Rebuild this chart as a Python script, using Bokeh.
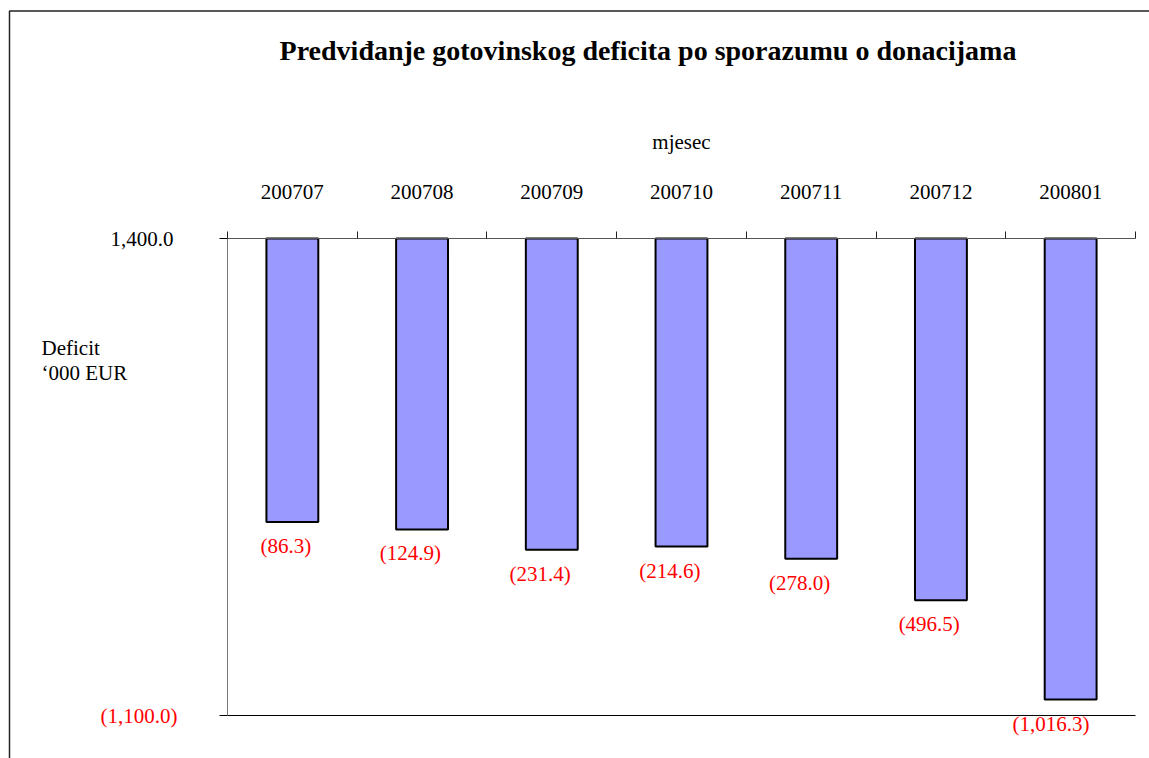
from bokeh.plotting import figure
from bokeh.models import (Range1d, LinearAxis, FixedTicker, ColumnDataSource,
                          LabelSet, Label, BoxAnnotation)
from bokeh.core.properties import value
from bokeh.embed import file_html
from bokeh.resources import INLINE

# ---------------- data ----------------
title_text = "Predviđanje gotovinskog deficita po sporazumu o donacijama"
categories = ["200707", "200708", "200709", "200710", "200711", "200712", "200801"]
deficits = [-86.3, -124.9, -231.4, -214.6, -278.0, -496.5, -1016.3]
y_ticks = [1400.0, -1100.0]
y_tick_labels = ["1,400.0", "(1,100.0)"]
x_axis_title = "mjesec"
y_axis_title = ["Deficit", "\u2018000 EUR"]

# ---------------- layout constants (pixels) ----------------
W, H = 1149, 758
FRAME_L, FRAME_R, FRAME_T, FRAME_B = 227, 1135, 238, 715
FONT = "Liberation Serif"
FS = "21px"
BAR_W = 0.4

n = len(categories)
y_top, y_bot = max(y_ticks), min(y_ticks)
kx = (FRAME_R - FRAME_L) / n
ky = (FRAME_B - FRAME_T) / (y_top - y_bot)


def X(px):
    return (px - FRAME_L) / kx


def Y(py):
    return y_top - (py - FRAME_T) / ky


xs = [i + 0.5 for i in range(n)]
x_right = [x + BAR_W / 2 for x in xs]
labels = ["({:,.1f})".format(abs(v)) if v < 0 else "{:,.1f}".format(v) for v in deficits]

src = ColumnDataSource(dict(x=xs, xr=x_right, v=deficits, lbl=labels, cat=categories))

p = figure(width=W, height=H,
           x_range=Range1d(X(0), X(W)), y_range=Range1d(Y(H), Y(0)),
           x_axis_location=None, y_axis_location=None,
           output_backend="svg", toolbar_location=None,
           min_border=0, min_border_left=0, min_border_right=0,
           min_border_top=0, min_border_bottom=0)
p.xgrid.visible = False
p.ygrid.visible = False
p.outline_line_color = None
p.background_fill_color = "white"
p.border_fill_color = "white"

# top category axis (ticks at category boundaries), crossing at y = 1400
top_axis = LinearAxis(
    fixed_location=y_top, bounds=(0, n),
    ticker=FixedTicker(ticks=xs, minor_ticks=list(range(n + 1))),
    major_label_overrides={x: c for x, c in zip(xs, categories)},
    axis_label=x_axis_title,
    axis_line_color="#555555", axis_line_width=1,
    major_tick_out=0, major_tick_in=0,
    minor_tick_out=7, minor_tick_in=0, minor_tick_line_color="#222222",
    major_label_standoff=33,
    major_label_text_font=FONT, major_label_text_font_size=FS,
    major_label_text_color="black",
    axis_label_text_font=FONT, axis_label_text_font_size=FS,
    axis_label_text_font_style="normal", axis_label_text_color="black",
    axis_label_standoff=28,
)
p.add_layout(top_axis, "above")

# left value axis (black label)
left_axis = LinearAxis(
    fixed_location=0, bounds=(y_bot, y_top),
    ticker=FixedTicker(ticks=y_ticks),
    major_label_overrides={y_ticks[0]: y_tick_labels[0], y_ticks[1]: ""},
    axis_line_color="#777777", axis_line_width=1,
    major_tick_out=8, major_tick_in=0, major_tick_line_color="black",
    minor_tick_out=0, minor_tick_in=0,
    major_label_standoff=46,
    major_label_text_font=FONT, major_label_text_font_size=FS,
    major_label_text_color="black",
)
p.add_layout(left_axis, "left")

# left value axis (red negative label)
left_axis_neg = LinearAxis(
    fixed_location=0, bounds=(y_bot, y_top),
    ticker=FixedTicker(ticks=[y_ticks[1]]),
    major_label_overrides={y_ticks[1]: y_tick_labels[1]},
    axis_line_color=None,
    major_tick_out=0, major_tick_in=0, major_tick_line_color=None,
    minor_tick_out=0, minor_tick_in=0,
    major_label_standoff=50,
    major_label_text_font=FONT, major_label_text_font_size=FS,
    major_label_text_color="#FF0000",
)
p.add_layout(left_axis_neg, "left")

# bottom line
bottom_axis = LinearAxis(
    fixed_location=y_bot, bounds=(0, n),
    ticker=FixedTicker(ticks=[]),
    axis_line_color="black", axis_line_width=1,
    major_tick_out=0, major_tick_in=0, minor_tick_out=0, minor_tick_in=0,
    major_label_text_font_size="0px",
)
p.add_layout(bottom_axis, "below")

# bars hang from the top axis line
p.vbar(x="x", width=BAR_W, top=y_top, bottom="v", source=src,
       fill_color="#9999FF", line_color="black", line_width=2)

# data labels
p.add_layout(LabelSet(x="xr", y="v", text="lbl", source=src,
                      x_offset=-7, y_offset=-24,
                      text_align="right", text_baseline="middle",
                      text_color="#FF0000", text_font=value(FONT),
                      text_font_size=FS))

# y axis title (two lines, horizontal)
p.add_layout(Label(x=X(41), y=Y(347), text=y_axis_title[0],
                   text_align="left", text_baseline="alphabetic",
                   text_color="black", text_font=FONT, text_font_size=FS))
p.add_layout(Label(x=X(41), y=Y(372), text=y_axis_title[1],
                   text_align="left", text_baseline="alphabetic",
                   text_color="black", text_font=FONT, text_font_size=FS))

# chart title
p.add_layout(Label(x=X(647.5), y=Y(50), text=title_text,
                   text_align="center", text_baseline="alphabetic",
                   text_color="black", text_font=FONT, text_font_size="28px",
                   text_font_style="bold"))

# outer chart-area border (top and left edges visible)
p.add_layout(BoxAnnotation(left=X(9), top=Y(10.5), right=X(W + 40), bottom=Y(H + 40),
                           fill_color=None, fill_alpha=0,
                           line_color="#222222", line_width=1.5, line_alpha=1))

open("out.html", "w").write(file_html(p, INLINE))
